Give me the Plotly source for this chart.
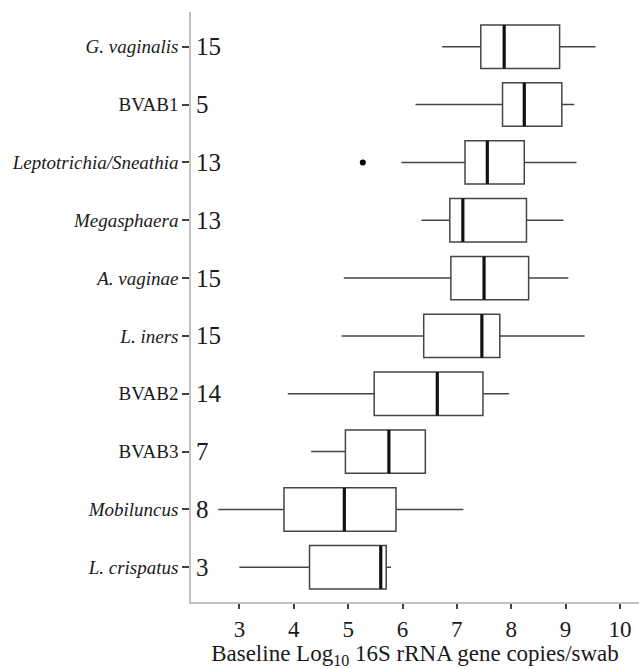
import plotly.graph_objects as go

# Categories listed top to bottom
categories = ["<i>G. vaginalis</i>", "BVAB1", "<i>Leptotrichia/Sneathia</i>", "<i>Megasphaera</i>",
              "<i>A. vaginae</i>", "<i>L. iners</i>", "BVAB2", "BVAB3", "<i>Mobiluncus</i>", "<i>L. crispatus</i>"]
counts = [15, 5, 13, 13, 15, 15, 14, 7, 8, 3]
lower_whisker = [6.73, 6.24, 5.98, 6.35, 4.92, 4.88, 3.89, 4.32, 2.61, 3.00]
q1_vals = [7.44, 7.84, 7.15, 6.87, 6.89, 6.39, 5.48, 4.95, 3.82, 4.29]
median_vals = [7.87, 8.24, 7.56, 7.11, 7.50, 7.46, 6.64, 5.75, 4.93, 5.60]
q3_vals = [8.89, 8.93, 8.24, 8.28, 8.32, 7.79, 7.48, 6.42, 5.88, 5.70]
upper_whisker = [9.55, 9.16, 9.20, 8.96, 9.05, 9.35, 7.96, 6.42, 7.12, 5.79]
outlier_cat = ["<i>Leptotrichia/Sneathia</i>"]
outlier_vals = [5.27]
x_ticks = [3, 4, 5, 6, 7, 8, 9, 10]

n = len(categories)
pos = [n - 1 - i for i in range(n)]
pos_of = dict(zip(categories, pos))
BOX_W = 0.75
FONT = "Liberation Serif, Times New Roman, serif"
TXT = "#1a1a1a"

fig = go.Figure()
fig.add_trace(go.Box(
    y=pos, q1=q1_vals, median=median_vals, q3=q3_vals,
    lowerfence=lower_whisker, upperfence=upper_whisker,
    orientation="h", width=BOX_W, whiskerwidth=0,
    line=dict(color="#454545", width=1.5), fillcolor="white",
    boxpoints=False, showlegend=False, hoverinfo="skip"))

# thicker median lines
for p, m in zip(pos, median_vals):
    fig.add_shape(type="line", xref="x", yref="y", x0=m, x1=m,
                  y0=p - BOX_W / 2, y1=p + BOX_W / 2,
                  line=dict(color="#111111", width=3.2))

fig.add_trace(go.Scatter(x=outlier_vals, y=[pos_of[c] for c in outlier_cat], mode="markers",
                         marker=dict(color="black", size=6), showlegend=False, hoverinfo="skip"))

for p, c in zip(pos, counts):
    fig.add_annotation(xref="paper", yref="y", x=0, y=p, xshift=3, xanchor="left",
                       text=str(c), showarrow=False, font=dict(family=FONT, size=25, color=TXT))

fig.update_layout(
    width=639, height=669,
    margin=dict(l=191, r=0, t=12, b=67),
    paper_bgcolor="white", plot_bgcolor="white",
    font=dict(family=FONT, color=TXT),
    xaxis=dict(range=[2.11, 10.35], tickvals=x_ticks, showgrid=False, zeroline=False,
               automargin=False,
               showline=True, linecolor="#c0c0c0", linewidth=1.5,
               ticks="outside", ticklen=5, tickcolor="#404040", tickwidth=1.5,
               ticklabelstandoff=1,
               tickfont=dict(family=FONT, size=23, color=TXT),
               title=dict(text="Baseline Log<sub>10</sub> 16S rRNA gene copies/swab",
                          font=dict(family=FONT, size=23, color=TXT), standoff=9)),
    yaxis=dict(range=[-0.6, n - 0.4], tickvals=pos, ticktext=categories, showgrid=False,
               automargin=False,
               zeroline=False, showline=True, linecolor="#c0c0c0", linewidth=1.5,
               ticks="outside", ticklen=7, tickcolor="#404040", tickwidth=1.5,
               tickfont=dict(family=FONT, size=19, color=TXT)),
)

fig.write_html("out.html", config={"displayModeBar": False},
               post_script="document.body.style.margin='0px';document.body.style.overflow='hidden';")
